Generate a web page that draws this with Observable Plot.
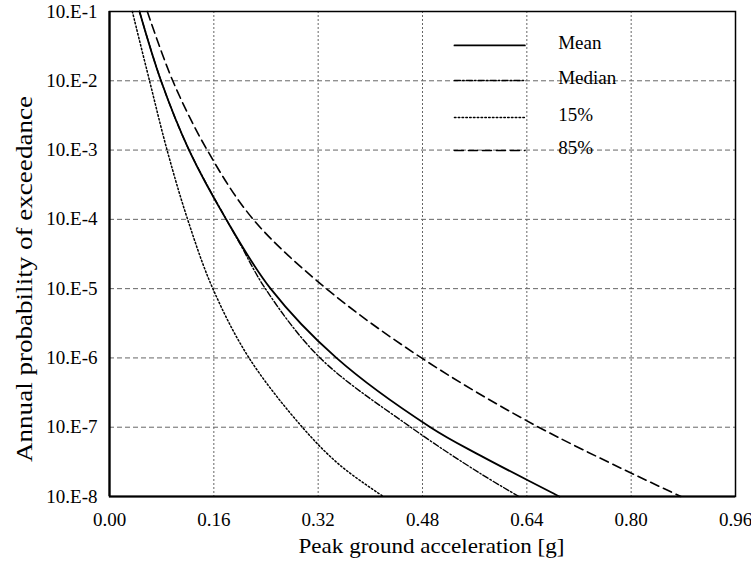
<!DOCTYPE html>
<html>
<head>
<meta charset="utf-8">
<script src="https://cdn.jsdelivr.net/npm/d3@7"></script>
<script src="https://cdn.jsdelivr.net/npm/@observablehq/plot@0.6"></script>
<style>
  body { margin: 0; background: #fff; }
  #chart svg { display: block; }
</style>
</head>
<body>
<div id="chart"></div>
<script>
// Peak ground acceleration [g] (x) and annual probability of exceedance (y)
const meanPGA   = [0.046, 0.079, 0.122, 0.179, 0.247, 0.348, 0.492, 0.569, 0.690];
const meanProb  = [1e-1, 1e-2, 1e-3, 1e-4, 1e-5, 1e-6, 1e-7, 3.89e-8, 1e-8];

const medianPGA  = [0.046, 0.079, 0.122, 0.179, 0.200, 0.239, 0.323, 0.462, 0.569, 0.628];
const medianProb = [1e-1, 1e-2, 1e-3, 1e-4, 4.47e-5, 1e-5, 1e-6, 1e-7, 2.14e-8, 1e-8];

const p15PGA  = [0.035, 0.0614, 0.0883, 0.1198, 0.1585, 0.214, 0.2957, 0.354, 0.420];
const p15Prob = [1e-1, 1e-2, 1e-3, 1e-4, 1e-5, 1e-6, 1e-7, 2.8e-8, 1e-8];

const p85PGA  = [0.058, 0.097, 0.1498, 0.2204, 0.3326, 0.4785, 0.6582, 0.8763];
const p85Prob = [1e-1, 1e-2, 1e-3, 1e-4, 1e-5, 1e-6, 1e-7, 1e-8];

const seriesNames = ["Mean", "Median", "15%", "85%"];
const xTicks = [0, 0.16, 0.32, 0.48, 0.64, 0.80, 0.96];
const yTicks = [1e-1, 1e-2, 1e-3, 1e-4, 1e-5, 1e-6, 1e-7, 1e-8];
const xTitle = "Peak ground acceleration [g]";
const yTitle = "Annual probability of exceedance";

// legend placement in data units (inside the plot, upper right)
const legendX1 = 0.529, legendX2 = 0.637, legendTextX = 0.688;
const legendY = [3.24e-2, 1.01e-2, 2.95e-3, 9.86e-4];

const styles = [
  {dash: null,            width: 1.8},
  {dash: "6,2.2,1.5,2.2", width: 1.4},
  {dash: "1.5,2.3",       width: 1.5},
  {dash: "9,5",           width: 1.6}
];

const toRows = (xs, ys) => xs.map((x, i) => ({x, y: ys[i]}));
const series = [
  toRows(meanPGA, meanProb),
  toRows(medianPGA, medianProb),
  toRows(p15PGA, p15Prob),
  toRows(p85PGA, p85Prob)
];

const lineMarks = series.map((rows, i) =>
  Plot.line(rows, {x: "x", y: "y", curve: "catmull-rom", stroke: "black",
    strokeWidth: styles[i].width, strokeDasharray: styles[i].dash})
);

const legendMarks = seriesNames.flatMap((name, i) => [
  Plot.line([{x: legendX1, y: legendY[i]}, {x: legendX2, y: legendY[i]}],
    {x: "x", y: "y", stroke: "black", strokeWidth: styles[i].width, strokeDasharray: styles[i].dash}),
  Plot.text([{x: legendTextX, y: legendY[i], t: name}],
    {x: "x", y: "y", text: "t", textAnchor: "start", fontSize: 19, fill: "black", dy: -3})
]);

const chart = Plot.plot({
  width: 751,
  height: 568,
  marginLeft: 109,
  marginRight: 16,
  marginTop: 11,
  marginBottom: 72,
  style: {fontFamily: "'Liberation Serif', 'Times New Roman', serif", fontSize: "19px", color: "black", background: "white"},
  x: {domain: [0, 0.96]},
  y: {type: "log", domain: [1e-8, 1e-1]},
  marks: [
    Plot.gridX(xTicks.slice(1, -1), {stroke: "#666", strokeOpacity: 1, strokeWidth: 1, strokeDasharray: "2,2"}),
    Plot.gridY(yTicks.slice(1, -1), {stroke: "#666", strokeOpacity: 1, strokeWidth: 1, strokeDasharray: "5,3"}),
    Plot.axisX(xTicks, {tickSize: 0, tickPadding: 16, tickFormat: d => d.toFixed(2), label: null, fontSize: 19}),
    Plot.axisY(yTicks, {tickSize: 0, tickPadding: 12, tickFormat: d => "10.E" + Math.round(Math.log10(d)), label: null, fontSize: 19}),
    ...lineMarks,
    ...legendMarks,
    Plot.frame({stroke: "black", strokeWidth: 1.5}),
    Plot.ruleX([0], {stroke: "black", strokeWidth: 2.2}),
    Plot.ruleY([1e-8], {stroke: "black", strokeWidth: 2.2}),
    Plot.text([xTitle], {frameAnchor: "bottom", textAnchor: "middle", dx: 9, dy: 56, fontSize: 22, fill: "black"}),
    Plot.text([yTitle], {frameAnchor: "left", textAnchor: "middle", rotate: -90, dx: -85, dy: 25, fontSize: 23, fill: "black"})
  ]
});

// stretch the axis titles to the widths they have in the reference
d3.select(chart).selectAll("text").each(function() {
  const t = this.textContent;
  if (t === xTitle) d3.select(this).attr("textLength", 266).attr("lengthAdjust", "spacingAndGlyphs");
  if (t === yTitle) d3.select(this).attr("textLength", 366).attr("lengthAdjust", "spacingAndGlyphs");
});

document.getElementById("chart").append(chart);
</script>
</body>
</html>
